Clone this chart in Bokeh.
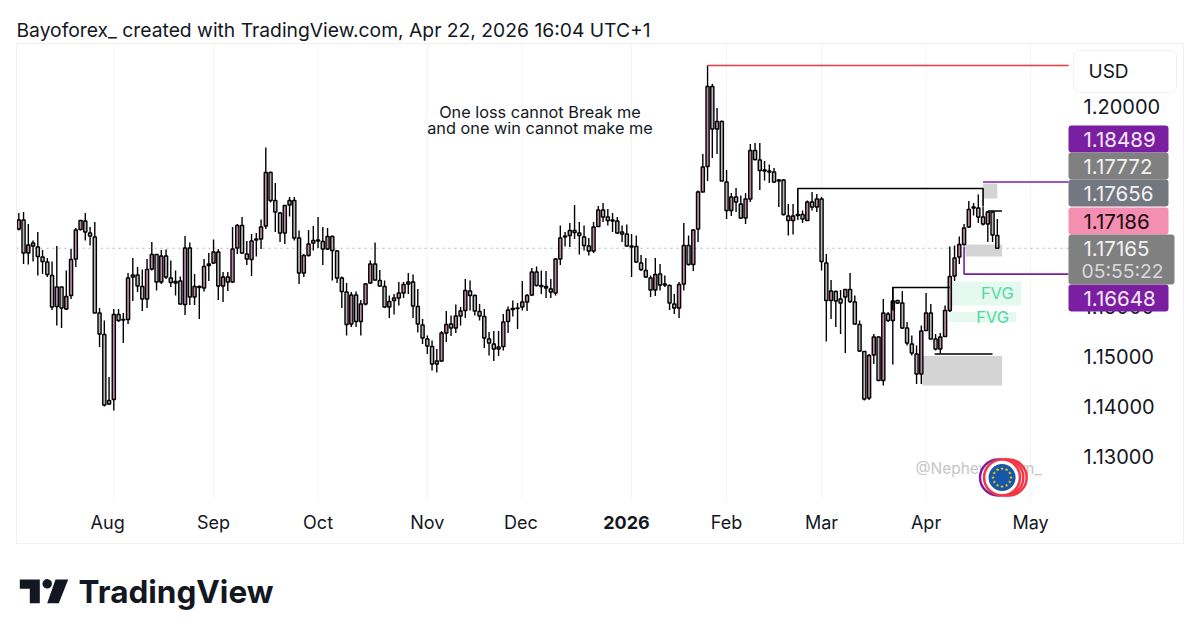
import numpy as np
from bokeh.core.properties import value
from bokeh.plotting import figure
from bokeh import models
from bokeh.embed import file_html
from bokeh.resources import INLINE

FONT = "Inter"

# Daily EURUSD candles.
OPENS = [
    1.1755, 1.1773, 1.1707, 1.1721, 1.1719, 1.1699, 1.1689, 1.1662, 1.1600, 1.1639,
    1.1595, 1.1622, 1.1695, 1.1754, 1.1771, 1.1747, 1.1739, 1.1587, 1.1544, 1.1405,
    1.1414, 1.1584, 1.1574, 1.1574, 1.1659, 1.1663, 1.1640, 1.1615, 1.1675, 1.1704,
    1.1649, 1.1701, 1.1657, 1.1650, 1.1651, 1.1604, 1.1717, 1.1619, 1.1638, 1.1637,
    1.1682, 1.1687, 1.1709, 1.1641, 1.1659, 1.1649, 1.1717, 1.1762, 1.1705, 1.1694,
    1.1733, 1.1735, 1.1761, 1.1868, 1.1812, 1.1787, 1.1747, 1.1803, 1.1812, 1.1737,
    1.1667, 1.1702, 1.1727, 1.1731, 1.1730, 1.1715, 1.1740, 1.1711, 1.1657, 1.1629,
    1.1565, 1.1623, 1.1570, 1.1605, 1.1647, 1.1685, 1.1652, 1.1640, 1.1599, 1.1612,
    1.1617, 1.1627, 1.1645, 1.1649, 1.1600, 1.1563, 1.1535, 1.1520, 1.1485, 1.1491,
    1.1547, 1.1565, 1.1557, 1.1581, 1.1592, 1.1631, 1.1622, 1.1590, 1.1580, 1.1535,
    1.1525, 1.1515, 1.1520, 1.1570, 1.1594, 1.1596, 1.1599, 1.1609, 1.1623, 1.1669,
    1.1642, 1.1640, 1.1635, 1.1627, 1.1695, 1.1739, 1.1742, 1.1752, 1.1747, 1.1739,
    1.1721, 1.1711, 1.1760, 1.1793, 1.1779, 1.1773, 1.1771, 1.1749, 1.1745, 1.1721,
    1.1720, 1.1687, 1.1672, 1.1657, 1.1633, 1.1665, 1.1645, 1.1642, 1.1605, 1.1597,
    1.1645, 1.1722, 1.1684, 1.1755, 1.1829, 1.1880, 1.2040, 1.1955, 1.1970, 1.1849,
    1.1792, 1.1819, 1.1805, 1.1777, 1.1815, 1.1912, 1.1893, 1.1873, 1.1871, 1.1869,
    1.1851, 1.1853, 1.1781, 1.1772, 1.1784, 1.1784, 1.1772, 1.1809, 1.1799, 1.1815,
    1.1687, 1.1612, 1.1630, 1.1615, 1.1619, 1.1634, 1.1609, 1.1564, 1.1510, 1.1417,
    1.1503, 1.1539, 1.1452, 1.1585, 1.1572, 1.1612, 1.1607, 1.1557, 1.1525, 1.1505,
    1.1465, 1.1552, 1.1587, 1.1535, 1.1515, 1.1540, 1.1592, 1.1661, 1.1699, 1.1724,
    1.1759, 1.1799, 1.1797, 1.1779, 1.1765, 1.1789, 1.1742,
]
HIGHS = [
    1.1787, 1.1789, 1.1765, 1.1732, 1.1749, 1.1713, 1.1697, 1.1690, 1.1721, 1.1639,
    1.1672, 1.1715, 1.1757, 1.1773, 1.1787, 1.1759, 1.1769, 1.1597, 1.1572, 1.1459,
    1.1595, 1.1595, 1.1587, 1.1667, 1.1697, 1.1679, 1.1674, 1.1695, 1.1729, 1.1705,
    1.1713, 1.1714, 1.1692, 1.1672, 1.1660, 1.1741, 1.1728, 1.1665, 1.1642, 1.1695,
    1.1707, 1.1734, 1.1715, 1.1669, 1.1669, 1.1759, 1.1765, 1.1779, 1.1731, 1.1745,
    1.1747, 1.1774, 1.1918, 1.1870, 1.1847, 1.1789, 1.1803, 1.1819, 1.1819, 1.1752,
    1.1705, 1.1753, 1.1761, 1.1779, 1.1759, 1.1757, 1.1742, 1.1713, 1.1660, 1.1647,
    1.1629, 1.1630, 1.1613, 1.1647, 1.1692, 1.1728, 1.1673, 1.1652, 1.1622, 1.1625,
    1.1649, 1.1649, 1.1667, 1.1664, 1.1635, 1.1575, 1.1542, 1.1532, 1.1515, 1.1551,
    1.1591, 1.1582, 1.1604, 1.1599, 1.1655, 1.1652, 1.1624, 1.1605, 1.1595, 1.1549,
    1.1551, 1.1551, 1.1585, 1.1600, 1.1612, 1.1607, 1.1651, 1.1625, 1.1677, 1.1680,
    1.1672, 1.1671, 1.1655, 1.1697, 1.1762, 1.1749, 1.1767, 1.1803, 1.1769, 1.1762,
    1.1737, 1.1769, 1.1801, 1.1807, 1.1795, 1.1787, 1.1779, 1.1762, 1.1764, 1.1745,
    1.1742, 1.1703, 1.1697, 1.1662, 1.1697, 1.1685, 1.1662, 1.1644, 1.1625, 1.1649,
    1.1767, 1.1742, 1.1755, 1.1832, 1.1905, 1.2082, 1.2045, 1.1997, 1.1972, 1.1873,
    1.1827, 1.1837, 1.1822, 1.1827, 1.1925, 1.1927, 1.1927, 1.1891, 1.1884, 1.1877,
    1.1855, 1.1855, 1.1805, 1.1805, 1.1792, 1.1792, 1.1812, 1.1829, 1.1825, 1.1819,
    1.1705, 1.1653, 1.1632, 1.1633, 1.1635, 1.1667, 1.1622, 1.1572, 1.1511, 1.1505,
    1.1545, 1.1540, 1.1615, 1.1589, 1.1639, 1.1613, 1.1631, 1.1569, 1.1542, 1.1522,
    1.1562, 1.1627, 1.1605, 1.1545, 1.1547, 1.1602, 1.1720, 1.1722, 1.1740, 1.1765,
    1.1811, 1.1807, 1.1824, 1.1799, 1.1791, 1.1791, 1.1775,
]
LOWS = [
    1.1752, 1.1685, 1.1684, 1.1690, 1.1662, 1.1665, 1.1659, 1.1593, 1.1562, 1.1557,
    1.1593, 1.1615, 1.1679, 1.1752, 1.1732, 1.1722, 1.1587, 1.1519, 1.1400, 1.1404,
    1.1392, 1.1569, 1.1527, 1.1565, 1.1611, 1.1629, 1.1591, 1.1597, 1.1672, 1.1632,
    1.1645, 1.1655, 1.1639, 1.1622, 1.1604, 1.1583, 1.1603, 1.1603, 1.1575, 1.1630,
    1.1651, 1.1685, 1.1613, 1.1609, 1.1631, 1.1647, 1.1705, 1.1705, 1.1683, 1.1661,
    1.1700, 1.1715, 1.1755, 1.1808, 1.1749, 1.1729, 1.1725, 1.1780, 1.1732, 1.1645,
    1.1659, 1.1700, 1.1712, 1.1717, 1.1683, 1.1713, 1.1652, 1.1647, 1.1597, 1.1542,
    1.1559, 1.1559, 1.1542, 1.1602, 1.1645, 1.1652, 1.1639, 1.1597, 1.1577, 1.1584,
    1.1602, 1.1617, 1.1625, 1.1577, 1.1548, 1.1525, 1.1505, 1.1472, 1.1468, 1.1489,
    1.1529, 1.1541, 1.1547, 1.1562, 1.1577, 1.1592, 1.1582, 1.1572, 1.1517, 1.1502,
    1.1491, 1.1501, 1.1512, 1.1547, 1.1580, 1.1555, 1.1592, 1.1591, 1.1621, 1.1640,
    1.1625, 1.1617, 1.1617, 1.1622, 1.1683, 1.1720, 1.1719, 1.1735, 1.1704, 1.1712,
    1.1702, 1.1707, 1.1759, 1.1769, 1.1762, 1.1749, 1.1745, 1.1729, 1.1720, 1.1659,
    1.1687, 1.1671, 1.1657, 1.1619, 1.1621, 1.1632, 1.1639, 1.1593, 1.1585, 1.1577,
    1.1632, 1.1682, 1.1671, 1.1729, 1.1829, 1.1851, 1.1897, 1.1905, 1.1851, 1.1775,
    1.1781, 1.1789, 1.1775, 1.1765, 1.1809, 1.1892, 1.1833, 1.1852, 1.1847, 1.1847,
    1.1799, 1.1782, 1.1742, 1.1744, 1.1773, 1.1767, 1.1771, 1.1792, 1.1789, 1.1672,
    1.1530, 1.1575, 1.1559, 1.1545, 1.1507, 1.1607, 1.1564, 1.1509, 1.1412, 1.1413,
    1.1485, 1.1451, 1.1442, 1.1569, 1.1484, 1.1605, 1.1555, 1.1522, 1.1502, 1.1445,
    1.1445, 1.1551, 1.1535, 1.1512, 1.1505, 1.1539, 1.1589, 1.1651, 1.1685, 1.1722,
    1.1757, 1.1782, 1.1767, 1.1762, 1.1729, 1.1729, 1.1715,
]
CLOSES = [
    1.1773, 1.1707, 1.1723, 1.1727, 1.1700, 1.1690, 1.1664, 1.1599, 1.1639, 1.1597,
    1.1620, 1.1694, 1.1753, 1.1772, 1.1749, 1.1741, 1.1587, 1.1545, 1.1403, 1.1412,
    1.1584, 1.1572, 1.1573, 1.1657, 1.1663, 1.1641, 1.1615, 1.1674, 1.1704, 1.1649,
    1.1701, 1.1659, 1.1648, 1.1647, 1.1605, 1.1717, 1.1619, 1.1640, 1.1640, 1.1680,
    1.1685, 1.1709, 1.1641, 1.1659, 1.1649, 1.1715, 1.1762, 1.1707, 1.1695, 1.1731,
    1.1735, 1.1759, 1.1868, 1.1812, 1.1789, 1.1747, 1.1802, 1.1812, 1.1737, 1.1667,
    1.1702, 1.1725, 1.1732, 1.1733, 1.1715, 1.1740, 1.1712, 1.1657, 1.1630, 1.1564,
    1.1623, 1.1570, 1.1605, 1.1645, 1.1685, 1.1653, 1.1641, 1.1599, 1.1610, 1.1617,
    1.1627, 1.1644, 1.1649, 1.1601, 1.1565, 1.1537, 1.1521, 1.1485, 1.1491, 1.1547,
    1.1564, 1.1557, 1.1581, 1.1591, 1.1632, 1.1622, 1.1591, 1.1581, 1.1537, 1.1527,
    1.1515, 1.1519, 1.1569, 1.1593, 1.1596, 1.1597, 1.1609, 1.1622, 1.1669, 1.1642,
    1.1640, 1.1637, 1.1629, 1.1695, 1.1737, 1.1741, 1.1752, 1.1748, 1.1742, 1.1722,
    1.1711, 1.1759, 1.1793, 1.1779, 1.1772, 1.1771, 1.1747, 1.1745, 1.1721, 1.1719,
    1.1689, 1.1674, 1.1659, 1.1633, 1.1664, 1.1643, 1.1643, 1.1607, 1.1597, 1.1644,
    1.1722, 1.1684, 1.1753, 1.1829, 1.1879, 1.2040, 1.1955, 1.1970, 1.1851, 1.1792,
    1.1819, 1.1809, 1.1777, 1.1815, 1.1912, 1.1894, 1.1872, 1.1871, 1.1869, 1.1849,
    1.1853, 1.1784, 1.1772, 1.1781, 1.1782, 1.1775, 1.1809, 1.1799, 1.1815, 1.1690,
    1.1612, 1.1631, 1.1611, 1.1607, 1.1634, 1.1610, 1.1565, 1.1511, 1.1415, 1.1502,
    1.1539, 1.1452, 1.1587, 1.1572, 1.1611, 1.1607, 1.1557, 1.1527, 1.1507, 1.1465,
    1.1551, 1.1587, 1.1535, 1.1515, 1.1539, 1.1592, 1.1660, 1.1697, 1.1724, 1.1757,
    1.1794, 1.1797, 1.1779, 1.1765, 1.1789, 1.1743, 1.17165,
]

PRICE_TICKS = [1.13, 1.14, 1.15, 1.16, 1.20]
MONTH_LABELS = ["Aug", "Sep", "Oct", "Nov", "Dec", "Feb", "Mar", "Apr", "May"]
MONTH_LABEL_BARS = [18.7, 41, 63, 86, 105.7, 149, 169, 191, 213]
MONTH_GRID_BARS = [20, 41, 63, 86, 106, 129, 149, 169, 191, 213]
YEAR_LABEL = "2026"

LAST_PRICE = 1.17165

# Price tags on the right: text, top px, bottom px, fill, text colour.
TAGS = [
    ("1.18489", 125, 152, "#7b1fa2", "#f3e9f7"),
    ("1.17772", 152, 179, "#808080", "#f2f2f2"),
    ("1.17656", 179, 206, "#737780", "#f2f2f2"),
    ("1.17186", 207, 234, "#f48fb1", "#1a0a10"),
    ("1.16648", 284, 311, "#7b1fa2", "#f3e9f7"),
]

# Chart pane limits, in bars and prices.
PANE_LEFT, PANE_RIGHT = -0.48, 221
PANE_BOTTOM, PANE_TOP = 1.1212, 1.2126

BAR_WIDTH = 0.66
UP_COLOR = "#bd86a2"
DOWN_COLOR = "#b6b6b6"

bars = np.arange(len(OPENS))
opens = np.array(OPENS)
closes = np.array(CLOSES)
source = models.ColumnDataSource(data={
    "bar": bars,
    "high": HIGHS,
    "low": LOWS,
    "open": OPENS,
    "close": CLOSES,
    "color": [UP_COLOR if c >= o else DOWN_COLOR for o, c in zip(opens, closes)],
})

# The frame fills the canvas so the header, tags and logo are not clipped,
# the axes are pinned at the pane edges.
p = figure(
    width=1190, height=630, output_backend="svg", toolbar_location=None,
    x_range=models.Range1d(-3.853, 246.67), y_range=models.Range1d(1.0952, 1.2212),
    y_axis_location="right", background_fill_color="white",
    min_border=0, outline_line_color=None,
)

p.grid.visible = False

p.xaxis.fixed_location = PANE_BOTTOM
p.xaxis.ticker = models.FixedTicker(ticks=MONTH_LABEL_BARS)
p.xaxis.major_label_overrides = dict(zip(MONTH_LABEL_BARS, MONTH_LABELS))
p.xaxis.axis_line_color = None
p.xaxis.major_tick_line_color = None
p.xaxis.minor_tick_line_color = None
p.xaxis.major_tick_out = 0
p.xaxis.major_label_text_font = FONT
p.xaxis.major_label_text_font_size = "18px"
p.xaxis.major_label_text_color = "#131722"
p.xaxis.major_label_standoff = 11

p.yaxis.fixed_location = PANE_RIGHT
p.yaxis.ticker = models.FixedTicker(ticks=PRICE_TICKS)
p.yaxis.formatter = models.NumeralTickFormatter(format="0.00000")
p.yaxis.axis_line_color = None
p.yaxis.major_tick_line_color = None
p.yaxis.minor_tick_line_color = None
p.yaxis.major_tick_out = 0
p.yaxis.major_label_text_font = FONT
p.yaxis.major_label_text_font_size = "20px"
p.yaxis.major_label_text_color = "#131722"
p.yaxis.major_label_standoff = 15

# Month grid and last price line
p.segment(
    MONTH_GRID_BARS, PANE_BOTTOM, MONTH_GRID_BARS, PANE_TOP,
    color="#f4f4f5", line_width=1, level="underlay",
)
p.segment(
    [PANE_LEFT], [LAST_PRICE], [PANE_RIGHT], [LAST_PRICE], color="#b4b4b4",
    line_dash=value([2, 4]), line_width=1.2, level="underlay",
)

# Zones behind the candles: left bar, right bar, top price, bottom price, colour.
p.quad(
    left=[195.1, 195.7], right=[211.1, 210], top=[1.165, 1.1589], bottom=[1.1602, 1.1569],
    fill_color="#e6f9f1", line_color=None,
)
p.quad(
    left=[203, 199.3, 190.2], right=[206, 207, 207],
    top=[1.1846, 1.1724, 1.1501], bottom=[1.1816, 1.17, 1.1442],
    fill_color="#d4d4d4", line_color=None,
)

# Candles
p.segment("bar", "high", "bar", "low", color="black", line_width=1.4, source=source)
p.vbar(
    "bar", BAR_WIDTH, "open", "close", fill_color="color", line_color="black",
    line_width=1.4, source=source,
)

# Drawn levels
p.segment([145], [1.2082], [PANE_RIGHT], [1.2082], color="#f23645", line_width=1.7)
p.multi_line(
    xs=[[164, 164, 203, 203], [203, PANE_RIGHT], [199, 199, PANE_RIGHT], [184, 184, 196], [192.8, 205], [204, 207]],
    ys=[[1.1786, 1.1836, 1.1836, 1.18], [1.18489, 1.18489], [1.172, 1.16648, 1.16648],
        [1.1592, 1.1638, 1.1638], [1.1505, 1.1505], [1.1791, 1.1791]],
    line_color=["black", "#7b1fa2", "#7b1fa2", "black", "black", "black"],
    line_width=1.6,
)


def canvas_label(text, px, py, size, color="#131722", align="left", style="normal", font=FONT):
    p.add_layout(models.Label(
        x=px, y=py, x_units="canvas", y_units="canvas", text=text,
        text_font=font, text_font_size=f"{size}px", text_color=color,
        text_align=align, text_baseline="middle", text_font_style=style,
    ))


def canvas_box(left, right, top, bottom, fill, line=None, radius=0):
    p.add_layout(models.BoxAnnotation(
        left=left, right=right, top=top, bottom=bottom,
        left_units="canvas", right_units="canvas", top_units="canvas", bottom_units="canvas",
        fill_color=fill, fill_alpha=1 if fill else 0, line_color=line, line_alpha=1 if line else 0,
        border_radius=radius, level="annotation",
    ))


# Outer frame and header
canvas_box(16, 1183, 43, 543, None, "#f0f0f1")
canvas_label("Bayoforex_ created with TradingView.com, Apr 22, 2026 16:04 UTC+1", 16, 29, 19.3)
canvas_label("One loss cannot Break me", 539.5, 111, 16.3, align="center")
canvas_label("and one win cannot make me", 539.5, 127, 16.3, align="center")
canvas_label(YEAR_LABEL, 626, 522, 18, align="center", style="bold")

# FVG text
p.add_layout(models.Label(x=206, y=1.1627, text="FVG", text_font=FONT, text_font_size="16.5px",
                          text_color="#4fd8a4", text_align="center", text_baseline="middle"))
p.add_layout(models.Label(x=205, y=1.1580, text="FVG", text_font=FONT, text_font_size="16.5px",
                          text_color="#4fd8a4", text_align="center", text_baseline="middle"))

# Right hand scale tags
canvas_box(1073, 1176, 50, 92, "white", "#f0f0f1", 6)
canvas_label("USD", 1088, 71, 19)
for text, top, bottom, fill, color in TAGS:
    canvas_box(1068, 1168, top, bottom, fill, None, 3)
    canvas_label(text, 1083, (top + bottom) / 2, 20.5, color)
canvas_box(1068, 1174, 234, 284, "#808080", None, 3)
canvas_label("1.17165", 1083, 248, 20.5, "#f2f2f2")
canvas_label("05:55:22", 1081, 270, 19.3, "#d9d9d9")

# Watermark and emblem
canvas_label("@Nephewforum_", 915, 468, 15.5, "#c6c6c6")
EMBLEM_BAR, EMBLEM_PRICE = 207, 1.1258
for off, color in [(1.4, "#f23645"), (0.7, "#f23645"), (-0.85, "#7b1fa2"), (0, "#f23645")]:
    p.scatter([EMBLEM_BAR + off], [EMBLEM_PRICE], size=36, marker="circle", fill_color="white",
              line_color=color, line_width=2.5, level="overlay")
p.scatter([EMBLEM_BAR], [EMBLEM_PRICE], size=27, marker="circle", fill_color="#1557a8",
          line_color=None, level="overlay")
angles = np.arange(12) * np.pi / 6
p.scatter(EMBLEM_BAR + 9 * np.cos(angles) / 4.75, EMBLEM_PRICE + 9 * np.sin(angles) / 5000,
          size=4, marker="star", fill_color="#ffcc00", line_color=None, level="overlay")

# TradingView logo
LOGO_SHAPES = [
    ([19.3, 39.3, 39.3, 29.3, 29.3, 19.3], [579, 579, 602.7, 602.7, 588.3, 588.3]),
    ([55, 67.7, 58.3, 46.7], [579, 579, 602.7, 602.7]),
    (list(46.7 + 4.7 * np.cos(np.linspace(0, 2 * np.pi, 24))),
     list(583.3 + 4.7 * np.sin(np.linspace(0, 2 * np.pi, 24)))),
]
for xs, ys in LOGO_SHAPES:
    p.add_layout(models.PolyAnnotation(
        xs=xs, ys=ys, xs_units="canvas", ys_units="canvas",
        fill_color="#131722", fill_alpha=1, line_color=None,
    ))
canvas_label("TradingView", 78, 591, 31.5, "#131722", style="bold")

open("out.html", "w").write(file_html(p, INLINE))
